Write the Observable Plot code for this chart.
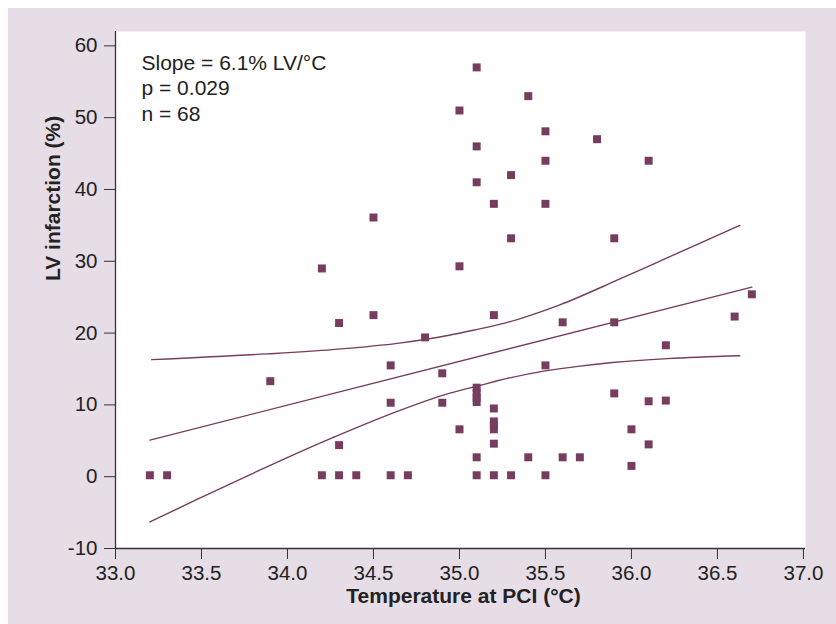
<!DOCTYPE html>
<html>
<head>
<meta charset="utf-8">
<script src="https://cdn.jsdelivr.net/npm/d3@7"></script>
<script src="https://cdn.jsdelivr.net/npm/@observablehq/plot@0.6"></script>
<style>
  html, body { margin: 0; padding: 0; background: #ffffff; }
  #bg { position: absolute; left: 8px; top: 8px; width: 828px; height: 616px; background: #e6dde6; }
  #chart { position: absolute; left: 0; top: 0; }
</style>
</head>
<body>
<div id="bg"></div>
<div id="chart"></div>
<script>
// Scatter data: temperature at PCI (°C) and LV infarction (%)
const temps = [
  35.1, 35.0, 35.4, 35.5, 35.8, 35.1, 35.5, 36.1, 35.1, 35.3,
  35.2, 35.5, 34.5, 35.3, 35.9, 34.2, 35.0, 36.6, 36.7, 34.5,
  35.2, 34.3, 35.6, 35.9, 34.8, 36.2, 34.6, 35.5, 34.9, 33.9,
  35.1, 35.1, 35.1, 35.1, 34.6, 34.9, 35.9, 36.1, 36.2, 35.2,
  35.2, 35.2, 35.2, 35.0, 36.0, 34.3, 35.2, 36.1, 35.1, 35.4,
  35.6, 35.7, 36.0,
  33.2, 33.3, 34.2, 34.3, 34.4, 34.6, 34.7, 35.1, 35.2, 35.3, 35.5
];
const infarct = [
  57.0, 51.0, 53.0, 48.1, 47.0, 46.0, 44.0, 44.0, 41.0, 42.0,
  38.0, 38.0, 36.1, 33.2, 33.2, 29.0, 29.3, 22.3, 25.4, 22.5,
  22.5, 21.4, 21.5, 21.5, 19.4, 18.3, 15.5, 15.5, 14.4, 13.3,
  12.4, 11.6, 11.0, 10.4, 10.3, 10.3, 11.6, 10.5, 10.6, 9.5,
  7.7, 7.1, 6.6, 6.6, 6.6, 4.4, 4.6, 4.5, 2.7, 2.7,
  2.7, 2.7, 1.5,
  0.2, 0.2, 0.2, 0.2, 0.2, 0.2, 0.2, 0.2, 0.2, 0.2, 0.2
];

// Regression line
const fitT = [33.2, 36.7];
const fitV = [5.1, 26.4];

// Upper confidence band
const upperT = [33.21, 33.88, 34.26, 34.65, 34.94, 35.08, 35.28, 35.39, 35.58, 35.92, 36.21, 36.63];
const upperV = [16.3, 17.1, 17.7, 18.6, 19.7, 20.4, 21.5, 22.3, 23.9, 27.4, 30.5, 35.0];

// Lower confidence band
const lowerT = [33.20, 33.48, 34.26, 34.65, 34.94, 35.10, 35.30, 35.49, 35.70, 35.89, 36.21, 36.63];
const lowerV = [-6.3, -3.1, 5.4, 9.2, 11.6, 12.6, 13.8, 14.7, 15.4, 15.9, 16.45, 16.85];

// Axis ticks and labels
const xTicks = [33.0, 33.5, 34.0, 34.5, 35.0, 35.5, 36.0, 36.5, 37.0];
const yTicks = [-10, 0, 10, 20, 30, 40, 50, 60];
const xTitle = "Temperature at PCI (°C)";
const yTitle = "LV infarction (%)";
const statsText = ["Slope = 6.1% LV/°C", "p = 0.029", "n = 68"];

const points = temps.map((t, i) => ({t, v: infarct[i]}));
const fit = fitT.map((t, i) => ({t, v: fitV[i]}));
const upper = upperT.map((t, i) => ({t, v: upperV[i]}));
const lower = lowerT.map((t, i) => ({t, v: lowerV[i]}));

const purple = "#763d5e";
const ink = "#222222";

const chart = Plot.plot({
  width: 836,
  height: 624,
  marginLeft: 115,
  marginRight: 31,
  marginTop: 31,
  marginBottom: 76,
  style: {background: "transparent", fontFamily: "'Liberation Sans', Arial, sans-serif", fontSize: "20.5px", color: ink},
  x: {domain: [33, 37.012]},
  y: {domain: [-10, 62]},
  marks: [
    Plot.frame({fill: "white", stroke: "none"}),
    Plot.axisX({ticks: xTicks, tickFormat: d3.format(".1f"), tickSize: 11, tickPadding: 6, label: null, stroke: "#333", fill: ink}),
    Plot.axisY({ticks: yTicks, tickFormat: d => String(d), tickSize: 11, tickPadding: 7, label: null, stroke: "#333", fill: ink}),
    Plot.ruleX([33], {stroke: "#333", strokeWidth: 1.3}),
    Plot.ruleY([-10], {stroke: "#333", strokeWidth: 1.3}),
    Plot.line(upper, {x: "t", y: "v", stroke: purple, strokeWidth: 1.4, curve: "monotone-x"}),
    Plot.line(lower, {x: "t", y: "v", stroke: purple, strokeWidth: 1.4, curve: "monotone-x"}),
    Plot.line(fit, {x: "t", y: "v", stroke: purple, strokeWidth: 1.4}),
    Plot.dot(points, {x: "t", y: "v", symbol: "square", r: 4.5, fill: purple, stroke: "none"}),
    Plot.text([statsText.join("\n")], {frameAnchor: "top-left", textAnchor: "start", lineAnchor: "top", dx: 26, dy: 20, fontSize: 21, lineHeight: 1.22, fill: ink}),
    Plot.text([xTitle], {frameAnchor: "bottom", dx: 3, dy: 54, fontSize: 21, fontWeight: "bold", fill: ink}),
    Plot.text([yTitle], {frameAnchor: "left", rotate: -90, dx: -62, dy: -9, fontSize: 21, fontWeight: "bold", fill: ink})
  ]
});
document.getElementById("chart").appendChild(chart);
</script>
</body>
</html>
